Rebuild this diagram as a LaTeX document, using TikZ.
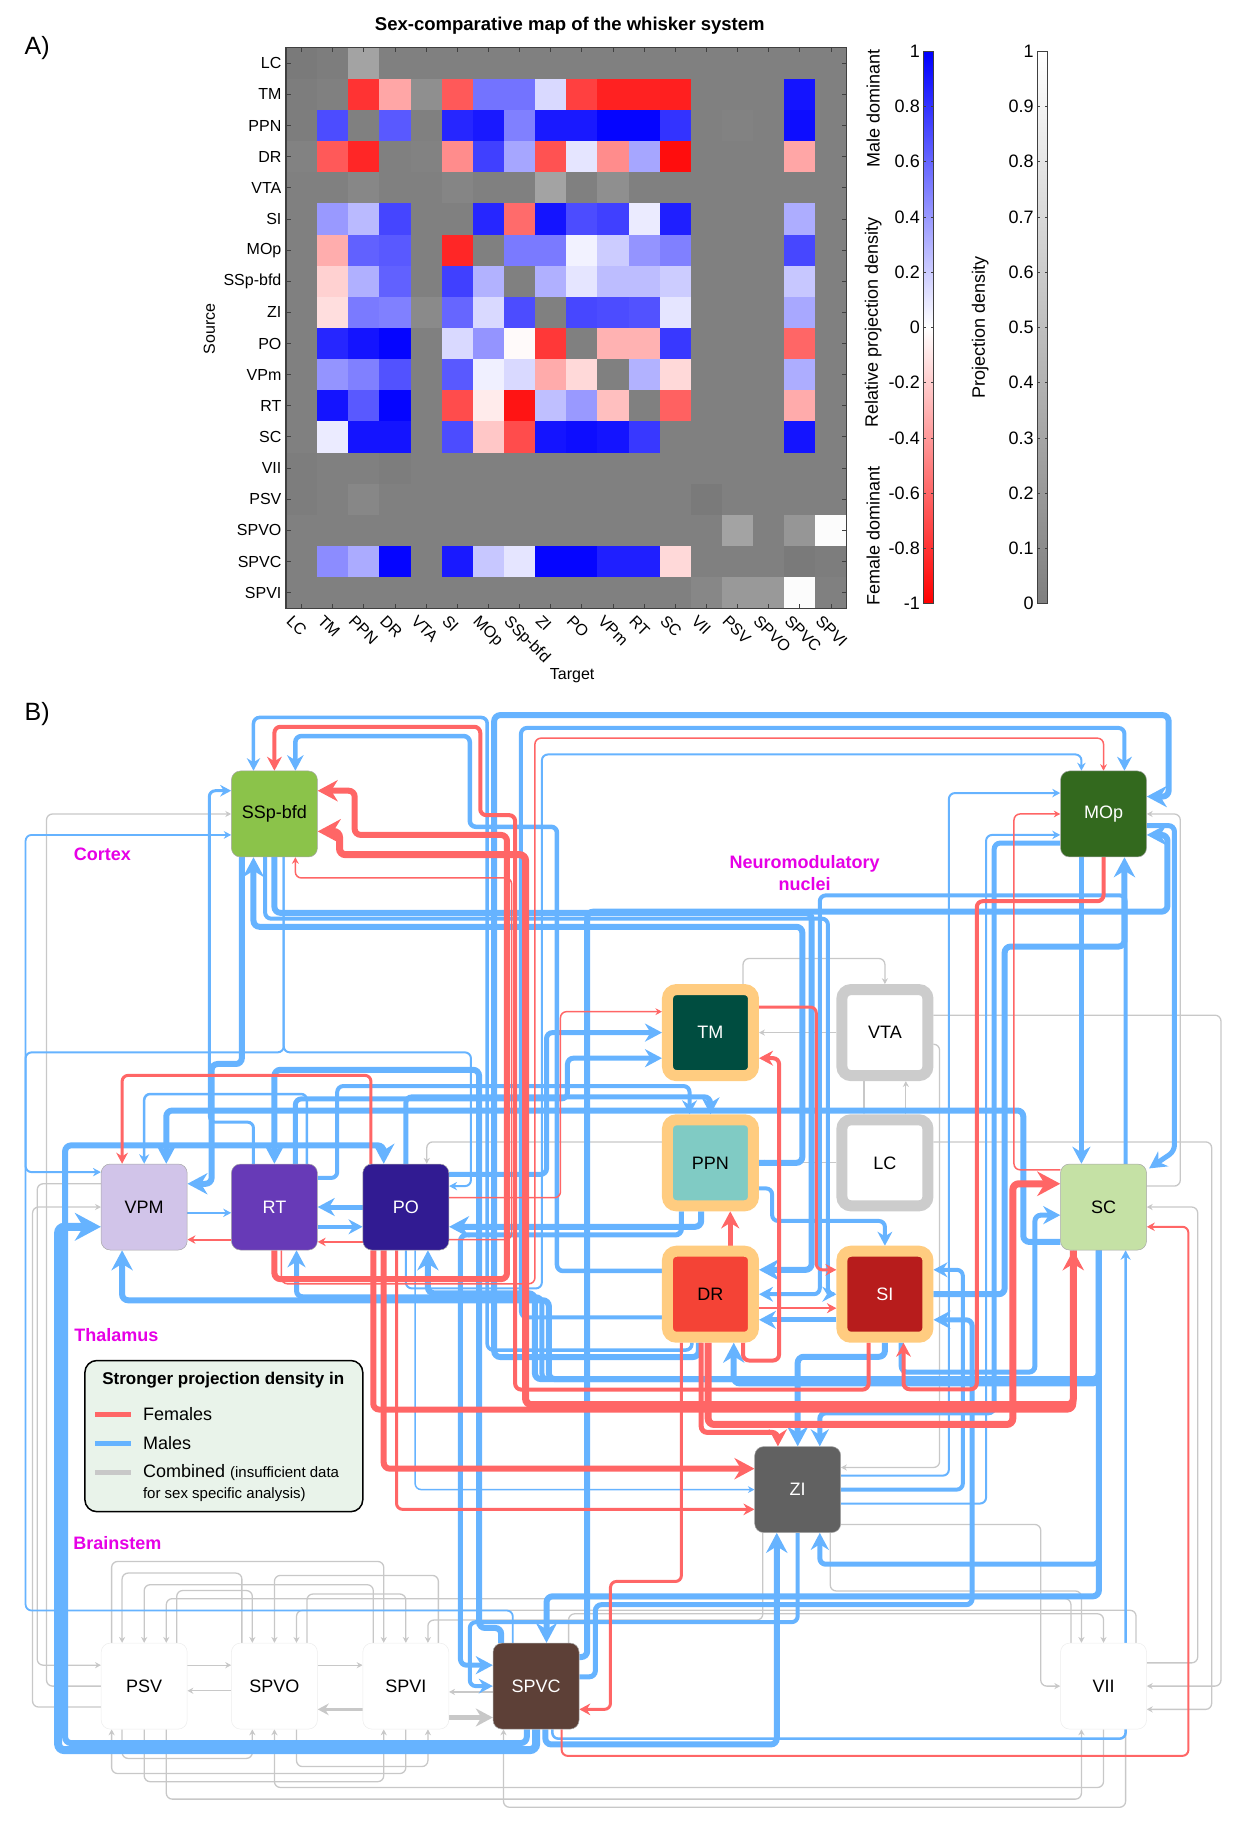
\documentclass[tikz,border=0pt]{standalone}
\usepackage{fontspec}
\setmainfont{Liberation Sans}
\usetikzlibrary{arrows.meta,calc}
\pgfdeclarelayer{edges}
\pgfsetlayers{edges,main}

\definecolor{mline}{HTML}{66B3FF}
\definecolor{fline}{HTML}{FF6666}
\definecolor{cline}{HTML}{C8C8C8}
\definecolor{haloc}{HTML}{FFCC80}
\definecolor{ringc}{HTML}{CCCCCC}
\definecolor{regionc}{HTML}{E600E6}
\definecolor{legendc}{HTML}{E9F3EA}
\definecolor{framec}{HTML}{404040}
\definecolor{cSSp}{HTML}{8BC34A}
\definecolor{cMOp}{HTML}{33691E}
\definecolor{cTM}{HTML}{004D40}
\definecolor{cPPN}{HTML}{80CBC4}
\definecolor{cDR}{HTML}{F44336}
\definecolor{cSI}{HTML}{B71C1C}
\definecolor{cVPM}{HTML}{D1C4E9}
\definecolor{cRT}{HTML}{673AB7}
\definecolor{cPO}{HTML}{311B92}
\definecolor{cSC}{HTML}{C5E1A5}
\definecolor{cZI}{HTML}{616161}
\definecolor{cSPVC}{HTML}{5D4037}

\newcommand{\hmfont}{\fontsize{16}{19}\selectfont}
\newcommand{\barfont}{\fontsize{18}{21}\selectfont}
\newcommand{\nodefont}{\fontsize{18}{21}\selectfont}
\newcommand{\regfont}{\bfseries\fontsize{18}{22}\selectfont}
\newcommand{\legfont}{\fontsize{18}{21}\selectfont}

% cell code -> colour: b = male (blue), r = female (red), g = combined (grey)
\def\hmapcol#1#2\relax{%
  \if b#1\def\hmcol{blue!#2!white}\fi
  \if r#1\def\hmcol{red!#2!white}\fi
  \if g#1\def\hmcol{black!#2!white}\fi}

\begin{document}
\begin{tikzpicture}[x=1.16279pt, y=-1.16279pt]
    % ================= styles =================
    \tikzset{
        % brain areas
        area/.style={rectangle, rounded corners=9pt, minimum size=86pt, inner sep=0pt,
            draw=black!35, line width=0.5pt, font=\nodefont},
        nm_area/.style={area, draw=haloc, line width=11pt},
        gate_area/.style={area, draw=ringc, line width=11pt, fill=white},
        bs_area/.style={area, draw=black!7, fill=white},
        % projections
        male_edge/.style={draw=mline, line width=#1pt, rounded corners=6pt,
            -{Stealth[length=2pt 3, width=2pt 3.2]}},
        female_edge/.style={draw=fline, line width=#1pt, rounded corners=6pt,
            -{Stealth[length=2pt 3, width=2pt 3.2]}},
        comb_edge/.style={draw=cline, line width=#1pt, rounded corners=6pt,
            -{Stealth[length=2pt 3, width=2pt 3.2]}},
        comb_edge/.default=1.3,
        % heat map
        hm_frame/.style={draw=framec, line width=1.2pt},
        hm_tick/.style={draw=framec, line width=0.9pt},
        region/.style={text=regionc, font=\regfont, align=center}
    }
    \useasboundingbox (0,0) rectangle (1075,1568.6);

    % ================= A) heat map =================
    \node[font=\fontsize{25}{28}\selectfont] (labA) at (32,41) {A)};
    \node[font=\bfseries\fontsize{18.5}{21}\selectfont] (title) at (490,22) {Sex-comparative map of the whisker system};

    \def\hx{246} \def\hy{41} \def\hc{26.78}
    \foreach \row [count=\i] in {
        {g52,g51,g36,g50,g50,g50,g50,g50,g50,g50,g50,g50,g50,g50,g50,g50,g50,g50},
        {g51,g50,r80,r35,g44,r65,b55,b55,b15,r75,r87,r87,r88,g50,g50,g50,b92,g50},
        {g51,b70,g50,b65,g50,b85,b90,b50,b90,b90,b98,b98,b80,g50,g49,g50,b95,g50},
        {g49,r65,r85,g50,g49,r45,b75,b35,r68,b10,r45,b35,r95,g50,g50,g50,r35,g50},
        {g50,g50,g47,g50,g50,g48,g50,g50,g36,g50,g44,g50,g50,g50,g50,g50,g50,g50},
        {g50,b40,b27,b73,g50,g50,b85,r58,b92,b70,b75,b08,b88,g50,g50,g50,b32,g50},
        {g50,r32,b62,b65,g50,r85,g50,b52,b52,b05,b20,b42,b50,g50,g50,g50,b72,g50},
        {g50,r18,b31,b62,g50,b75,b30,g50,b31,b10,b26,b26,b20,g50,g50,g50,b22,g50},
        {g50,r13,b52,b50,g46,b60,b15,b70,g50,b72,b70,b68,b10,g50,g50,g50,b34,g50},
        {g50,b85,b92,b98,g50,b15,b42,r02,r78,g50,r30,r30,b78,g50,g50,g50,r60,g50},
        {g50,b42,b50,b68,g50,b65,b06,b15,r33,r15,g50,b30,r15,g50,g50,g50,b32,g50},
        {g50,b92,b65,b98,g50,r70,r08,r92,b25,b40,r25,g50,r62,g50,g50,g50,r33,g50},
        {g50,b08,b92,b92,g50,b70,r22,r70,b92,b95,b92,b78,g50,g50,g50,g50,b92,g50},
        {g51,g50,g50,g51,g50,g50,g50,g50,g50,g50,g50,g50,g50,g50,g50,g50,g50,g50},
        {g51,g50,g47,g50,g50,g50,g50,g50,g50,g50,g50,g50,g50,g52,g50,g50,g50,g50},
        {g50,g50,g50,g50,g50,g50,g50,g50,g50,g50,g50,g50,g50,g50,g36,g50,g41,g1},
        {g50,b45,b33,b98,g50,b90,b22,b10,b98,b98,b88,b88,r15,g50,g50,g50,g52,g51},
        {g50,g50,g50,g50,g50,g50,g50,g50,g50,g50,g50,g50,g50,g47,g40,g40,g1,g50}} {
        \foreach \c [count=\j] in \row {
            \expandafter\hmapcol\c\relax
            \fill[color=\hmcol] ({\hx+(\j-1)*\hc},{\hy+(\i-1)*\hc}) rectangle ++(27.1,27.1);
        }
    }
    \draw[hm_frame] (246,41) rectangle (728,523);
    \foreach \lab [count=\i] in {LC,TM,PPN,DR,VTA,SI,MOp,SSp-bfd,ZI,PO,VPm,RT,SC,VII,PSV,SPVO,SPVC,SPVI} {
        \draw[hm_tick] ({\hx+(\i-0.5)*\hc},41) -- ++(0,4) ({\hx+(\i-0.5)*\hc},523) -- ++(0,-4)
            (246,{\hy+(\i-0.5)*\hc}) -- ++(4,0) (728,{\hy+(\i-0.5)*\hc}) -- ++(-4,0);
        \node[anchor=east, font=\hmfont, inner sep=1pt] (row\i) at (243,{\hy+(\i-0.5)*\hc}) {\lab};
        \node[anchor=north west, rotate=-45, font=\hmfont, inner sep=0pt] (col\i) at ({\hx+(\i-0.5)*\hc-7},528) {\lab};
    }
    \node[rotate=90, font=\hmfont] (src) at (180,283) {Source};
    \node[font=\hmfont] (tgt) at (492,581) {Target};

    % colour bars
    \shade[top color=blue, bottom color=white] (794,44) rectangle (803,281.5);
    \shade[top color=white, bottom color=red] (794,281.5) rectangle (803,519);
    \draw[hm_frame, line width=0.9pt] (794,44) rectangle (803,519);
    \foreach \v [count=\k] in {1,0.8,0.6,0.4,0.2,0,-0.2,-0.4,-0.6,-0.8,-1} {
        \pgfmathsetmacro{\yy}{44+(1-\v)/2*475}
        \node[anchor=east, font=\barfont, inner sep=1pt] (rl\k) at (792,\yy) {\v};
        \draw[hm_tick, line width=0.6pt] (794,\yy) -- ++(2.5,0) (803,\yy) -- ++(-2.5,0);
    }
    \node[rotate=90, font=\barfont] (male) at (751,93) {Male dominant};
    \node[rotate=90, font=\barfont] (rel) at (751,277) {Relative projection density};
    \node[rotate=90, font=\barfont] (female) at (751,461) {Female dominant};

    \shade[top color=white, bottom color=black!50] (892,44) rectangle (901,519);
    \draw[hm_frame, line width=0.9pt] (892,44) rectangle (901,519);
    \foreach \v [count=\k] in {1,0.9,0.8,0.7,0.6,0.5,0.4,0.3,0.2,0.1,0} {
        \pgfmathsetmacro{\yy}{44+(1-\v)*475}
        \node[anchor=east, font=\barfont, inner sep=1pt] (gl\k) at (890,\yy) {\v};
        \draw[hm_tick, line width=0.6pt] (892,\yy) -- ++(2.5,0) (901,\yy) -- ++(-2.5,0);
    }
    \node[rotate=90, font=\barfont] (dens) at (843,282) {Projection density};

    % ================= B) network =================
    \node[font=\fontsize{25}{28}\selectfont] (labB) at (32,614) {B)};

    \node[area, fill=cSSp] (SSp) at (236,700) {SSp-bfd};
    \node[area, fill=cMOp, text=white] (MOp) at (949,700) {MOp};
    \node[nm_area, fill=cTM, text=white] (TM) at (611,888) {TM};
    \node[gate_area] (VTA) at (761,888) {VTA};
    \node[nm_area, fill=cPPN] (PPN) at (611,1000) {PPN};
    \node[gate_area] (LC) at (761,1000) {LC};
    \node[nm_area, fill=cDR] (DR) at (611,1113) {DR};
    \node[nm_area, fill=cSI, text=white] (SI) at (761,1113) {SI};
    \node[area, fill=cVPM] (VPM) at (124,1038) {VPM};
    \node[area, fill=cRT, text=white] (RT) at (236,1038) {RT};
    \node[area, fill=cPO, text=white] (PO) at (349,1038) {PO};
    \node[area, fill=cSC] (SC) at (949,1038) {SC};
    \node[area, fill=cZI, text=white] (ZI) at (686,1281) {ZI};
    \node[bs_area] (PSV) at (124,1450) {PSV};
    \node[bs_area] (SPVO) at (236,1450) {SPVO};
    \node[bs_area] (SPVI) at (349,1450) {SPVI};
    \node[area, fill=cSPVC, text=white] (SPVC) at (461,1450) {SPVC};
    \node[bs_area] (VII) at (949,1450) {VII};

    \node[region] (cortex) at (88,735) {Cortex};
    \node[region] (neuro) at (692,751) {Neuromodulatory\\nuclei};
    \node[region] (thal) at (100,1148) {Thalamus};
    \node[region] (brain) at (101,1327) {Brainstem};

    % legend
    \draw[fill=legendc, draw=black, line width=1.5pt, rounded corners=12pt] (73,1170) rectangle (312,1300);
    \node[font=\bfseries\fontsize{17}{20}\selectfont] (legtitle) at (192,1187) {Stronger projection density in};
    \draw[fline, line width=5pt] (82,1216) -- (113,1216);
    \node[anchor=west, font=\legfont, inner sep=1pt] (legf) at (122,1216) {Females};
    \draw[mline, line width=5pt] (82,1241) -- (113,1241);
    \node[anchor=west, font=\legfont, inner sep=1pt] (legm) at (122,1241) {Males};
    \draw[cline, line width=5pt] (82,1266) -- (113,1266);
    \node[anchor=west, font=\legfont, inner sep=1pt] (legc) at (122,1266) {Combined {\fontsize{15}{17}\selectfont (insufficient data}};
    \node[anchor=west, font=\fontsize{15}{17}\selectfont, inner sep=1pt] (legc2) at (122,1285) {for sex specific analysis)};

    \begin{pgfonlayer}{edges}
        % ---------- combined (grey) ----------
        \draw[comb_edge=3] ($(SPVI.west)+(0,20)$) -- ($(SPVO.east)+(0,20)$);
        \draw[comb_edge=5] ($(SPVI.east)+(0,27)$) -- ($(SPVC.west)+(0,27)$);
        \draw[comb_edge] ($(SPVC.west)+(0,5)$) -- ($(SPVI.east)+(0,5)$);
        \draw[comb_edge] ($(SPVO.west)+(0,4)$) -- ($(PSV.east)+(0,4)$);
        \draw[comb_edge] ($(PSV.east)+(0,-18)$) -- ($(SPVO.west)+(0,-18)$);
        \draw[comb_edge] ($(SPVO.east)+(0,-18)$) -- ($(SPVI.west)+(0,-18)$);
        \draw[comb_edge] ($(SPVO.north)+(-28,0)$) -- ++(0,-60) -| ($(PSV.north)+(-19,0)$);
        \draw[comb_edge] ($(SPVI.north)+(-28,0)$) -- ++(0,-50) -| (PSV.north);
        \draw[comb_edge] ($(VII.north)+(-28,0)$) -- ++(0,-38) -| ($(PSV.north)+(19,0)$);
        \draw[comb_edge] ($(PSV.north)+(28,0)$) -- ++(0,-45) -| ($(SPVO.north)+(-19,0)$);
        \draw[comb_edge] ($(SPVI.north)+(28,0)$) -- ++(0,-58) -| (SPVO.north);
        \draw[comb_edge] ($(VII.north)+(28,0)$) -- ++(0,-28) -| ($(SPVO.north)+(19,0)$);
        \draw[comb_edge] ($(PSV.north)+(-28,0)$) -- ++(0,-70) -| ($(SPVI.north)+(-19,0)$);
        \draw[comb_edge] ($(SPVO.north)+(28,0)$) -- ++(0,-42) -| (SPVI.north);
        \draw[comb_edge] ($(ZI.south)+(-30,0)$) -- ++(0,75) -| ($(SPVI.north)+(19,0)$);
        \draw[comb_edge] ($(ZI.south)+(28,0)$) -- ++(0,50) -| ($(VII.north)+(-19,0)$);
        \draw[comb_edge] ($(SPVC.north)+(28,0)$) -- ++(0,-25) -| (VII.north);
        \draw[comb_edge] ($(PSV.south)+(-19,0)$) -- ++(0,25) -| ($(SPVO.south)+(-19,0)$);
        \draw[comb_edge] (PSV.south) -- ++(0,45) -| ($(SPVI.south)+(-19,0)$);
        \draw[comb_edge] ($(PSV.south)+(19,0)$) -- ++(0,60) -| ($(VII.south)+(-19,0)$);
        \draw[comb_edge] ($(SPVO.south)+(19,0)$) -- ++(0,32) -| ($(SPVI.south)+(19,0)$);
        \draw[comb_edge] (SPVI.south) -- ++(0,38) -| ($(PSV.south)+(-28,0)$);
        \draw[comb_edge] (VII.south) -- ++(0,50) -| (SPVO.south);
        \draw[comb_edge] ($(VII.south)+(19,0)$) -- ++(0,67) -| ($(SPVC.south)+(-28,0)$);
        \draw[comb_edge] ($(VPM.west)+(0,-20)$) -| (32,1432) -- ($(PSV.west)+(0,-18)$);
        \draw[comb_edge] (PSV.west) -| (40,700) -- (SSp.west);
        \draw[comb_edge] ($(PSV.west)+(0,18)$) -| (28,1038) -- (VPM.west);
        \draw[comb_edge] ($(PPN.west)+(0,-18)$) -| ($(PO.north)+(18,0)$);
        \draw[comb_edge] (LC.west) -- (PPN.east);
        \draw[comb_edge] (VTA.west) -- (TM.east);
        \draw[comb_edge] ($(VTA.east)+(0,10)$) -| (808,1262) -- ($(ZI.east)+(0,-19)$);
        \draw[comb_edge] ($(TM.north)+(28,0)$) |- ($(VTA.north)+(0,-22)$) -- (VTA.north);
        \draw[comb_edge] ($(VTA.south)+(-18,0)$) -- ($(LC.north)+(-18,0)$);
        \draw[comb_edge] ($(LC.north)+(18,0)$) -- ($(VTA.south)+(18,0)$);
        \draw[comb_edge] ($(SC.east)+(0,-18)$) -| (1015,700) -- (MOp.east);
        \draw[comb_edge] ($(LC.east)+(0,-18)$) -| (1042,1470) -- ($(VII.east)+(0,20)$);
        \draw[comb_edge] ($(VTA.east)+(0,-15)$) -| (1050,1450) -- (VII.east);
        \draw[comb_edge] ($(ZI.east)+(0,30)$) -| (895,1450) -- (VII.west);
        \draw[comb_edge] ($(VII.east)+(0,-20)$) -| (1030,1038) -- (SC.east);

        % ---------- males (blue) ----------
        \draw[male_edge=6] ($(DR.south)+(-10,0)$) |- (425,1167) |- (1005,615) |- ($(MOp.east)+(0,-15)$);
        \draw[male_edge=3.5] ($(DR.south)+(-16,0)$) |- (419,1161) |- (218,617) -- ($(SSp.north)+(-18,0)$);
        \draw[male_edge=4.5] ($(DR.west)+(0,-20)$) -| (479,711) -| (404,633) -| ($(SSp.north)+(18,0)$);
        \draw[male_edge=1.8] ($(SPVC.north)+(-20,0)$) |- (22,1385) |- ($(SSp.west)+(0,18)$);
        \draw[male_edge=3] ($(RT.north)+(-18,0)$) |- (180,965) |- ($(SSp.west)+(0,-20)$);
        \draw[male_edge=6] (SSp.south) |- (698,785) |- ($(DR.east)+(0,-21)$);
        \draw[male_edge=6] (PPN.east) -| (690,797) -| ($(SSp.south)+(-18,0)$);
        \draw[male_edge=5] ($(MOp.east)+(0,10)$) -| (1010,990) -- ($(SC.north east)+(2,4)$);
        \draw[male_edge=6] ($(SPVC.east)+(0,-25)$) -| (505,784) -| (1004,718) -- ($(MOp.east)+(0,18)$);
        \draw[male_edge=8] (SPVC.south) |- (50,1505) |- ($(VPM.west)+(0,17)$);
        \draw[male_edge=6] ($(SPVC.south)+(-8,0)$) |- (56,1499) |- (300,985) -| ($(PO.north)+(-19,0)$);
        \draw[male_edge=6] ($(SC.south)+(-4,0)$) |- ($(SPVC.north)+(9,-40)$) -- ($(SPVC.north)+(9,0)$);
        \draw[male_edge=6] ($(SPVC.south)+(8,0)$) |- ($(ZI.south)+(-18,182)$) -- ($(ZI.south)+(-18,0)$);
        \draw[male_edge=5] ($(SC.south)+(-4,0)$) |- ($(ZI.south)+(19,27)$) -- ($(ZI.south)+(19,0)$);
        \draw[male_edge=6] ($(PPN.south)+(-8,0)$) |- ($(PO.east)+(0,17)$);
        \draw[male_edge=6] (SI.south) |- ($(ZI.north)+(0,-77)$) -- (ZI.north);
        \draw[male_edge=5] ($(MOp.west)+(0,25)$) -| (855,1215) -| ($(ZI.north)+(19,0)$);
        \draw[male_edge=6] ($(SC.south)+(-4,0)$) |- ($(DR.south)+(20,35)$) -- ($(DR.south)+(20,0)$);
        \draw[male_edge=5] ($(SPVC.east)+(0,-8)$) -| (512,1380) -| (836,1135) -- ($(SI.east)+(0,22)$);
        \draw[male_edge=4] (ZI.east) -| (828,1092) -- ($(SI.east)+(0,-21)$);
        \draw[male_edge=5] ($(SI.south)+(14,0)$) |- (890,1180) |- ($(SC.west)+(0,7)$);
        \draw[male_edge=4] ($(PPN.east)+(0,22)$) -| (664,1050) -| (SI.north);
        \draw[male_edge=5] ($(SI.west)+(0,22)$) -- ($(DR.east)+(0,22)$);
        \draw[male_edge=4] ($(SC.north)+(19,0)$) |- (705,770) |- (DR.east);
        \draw[male_edge=4] ($(SSp.south)+(-8,0)$) |- (712,790) |- (SI.west);
        \draw[male_edge=5] ($(PO.east)+(0,-28)$) -| (470,888) -- (TM.west);
        \draw[male_edge=5] ($(RT.north)+(18,0)$) |- (488,945) |- ($(TM.west)+(0,22)$);
        \draw[male_edge=5] (PO.north) |- ($(PPN.north)+(0,-15)$) -- (PPN.north);
        \draw[male_edge=4] ($(RT.east)+(0,-25)$) -| (290,934) -| ($(PPN.north)+(-18,0)$);
        \draw[male_edge=6] ($(SC.west)+(0,30)$) -| (880,955) -| ($(VPM.north)+(19,0)$);
        \draw[male_edge=6] ($(SPVC.north)+(-30,0)$) |- (412,1400) |- (236,920) -- (RT.north);
        \draw[male_edge=2] ($(VPM.east)+(0,5)$) -- ($(RT.west)+(0,5)$);
        \draw[male_edge=6] ($(SC.south)+(-4,0)$) |- (472,1186) |- ($(VPM.south)+(-19,43)$) -- ($(VPM.south)+(-19,0)$);
        \draw[male_edge=5] ($(SC.south)+(-4,0)$) |- (466,1186) |- ($(RT.south)+(19,40)$) -- ($(RT.south)+(19,0)$);
        \draw[male_edge=6] ($(SC.south)+(-4,0)$) |- (460,1186) |- ($(PO.south)+(19,37)$) -- ($(PO.south)+(19,0)$);
        \draw[male_edge=5] (PO.west) -- (RT.east);
        \draw[male_edge=4] ($(RT.east)+(0,17)$) -- ($(PO.west)+(0,17)$);
        \draw[male_edge=6] ($(SSp.south)+(-28,0)$) |- (182,915) |- ($(VPM.east)+(0,-20)$);
        \draw[male_edge=2] ($(SSp.south)+(8,0)$) |- (405,905) |- ($(PO.east)+(0,-18)$);
        \draw[male_edge=2] ($(SSp.south)+(8,0)$) |- (22,905) |- ($(VPM.west)+(0,-30)$);
        \draw[male_edge=2] (PO.south) |- (466,1108) |- ($(MOp.north)+(-19,-14)$) -- ($(MOp.north)+(-19,0)$);
        \draw[male_edge=4] ($(DR.west)+(0,20)$) -| (448,626) -| ($(MOp.north)+(18,0)$);
        \draw[male_edge=2] ($(ZI.east)+(0,-12)$) -| (816,682) -- ($(MOp.west)+(0,-18)$);
        \draw[male_edge=6] (SI.east) -| (864,814) -| ($(MOp.south)+(18,0)$);
        \draw[male_edge=5] ($(MOp.south)+(-19,0)$) -- ($(SC.north)+(-19,0)$);
        \draw[male_edge=2] ($(ZI.east)+(0,12)$) -| (848,718) -- ($(MOp.west)+(0,18)$);
        \draw[male_edge=5] ($(PPN.south)+(-25,0)$) |- (396,1062) |- ($(SPVC.west)+(0,-18)$);
        \draw[male_edge=4] (ZI.south) |- (404,1395) |- (SPVC.west);
        \draw[male_edge=2.5] ($(SPVC.south)+(14,0)$) |- ($(SC.south)+(19,420)$) -- ($(SC.south)+(19,0)$);
        \draw[male_edge=1.5] ($(PO.south)+(8,0)$) |- (ZI.west);
        \draw[male_edge=2.5] ($(RT.north)+(28,0)$) |- ($(VPM.north)+(0,-60)$) -- (VPM.north);

        % ---------- females (red) ----------
        \draw[female_edge=6] (RT.south) |- (436,1100) |- (305,718) |- ($(SSp.east)+(0,-20)$);
        \draw[female_edge=7] ($(SC.south)+(-26,0)$) |- (452,1208) |- (292,735) |- ($(SSp.east)+(0,15)$);
        \draw[female_edge=4] ($(SI.south)+(-14,0)$) |- (443,1195) |- (413,701) |- (236,625) -- (SSp.north);
        \draw[female_edge=1.5] ($(PO.east)+(0,28)$) -| (440,755) -| ($(SSp.south)+(18,0)$);
        \draw[female_edge=5] ($(DR.north)+(17,0)$) -- ($(PPN.south)+(17,0)$);
        \draw[female_edge=7] ($(DR.south)+(-2,0)$) |- (871,1225) |- ($(SC.west)+(0,-20)$);
        \draw[female_edge=5] ($(DR.south)+(-8,0)$) |- ($(ZI.north)+(-17,-12)$) -- ($(ZI.north)+(-17,0)$);
        \draw[female_edge=6] ($(PO.south)+(-19,0)$) |- ($(ZI.west)+(0,-18)$);
        \draw[female_edge=3] ($(PO.south)+(-8,0)$) |- ($(ZI.west)+(0,17)$);
        \draw[female_edge=6] ($(PO.south)+(-28,0)$) |- ($(SC.south)+(-26,137)$) -- ($(SC.south)+(-26,0)$);
        \draw[female_edge=2] ($(SPVC.south)+(22,0)$) |- (1022,1510) |- ($(SC.east)+(0,17)$);
        \draw[female_edge=3] ($(DR.south)+(-25,0)$) |- (525,1360) |- ($(SPVC.east)+(0,20)$);
        \draw[female_edge=1.5] ($(PO.east)+(0,-8)$) -| (482,870) -- ($(TM.west)+(0,-18)$);
        \draw[female_edge=4] ($(DR.south)+(28,0)$) |- (670,1170) |- ($(TM.east)+(0,22)$);
        \draw[female_edge=3] ($(TM.east)+(0,-22)$) -| (702,1092) -- ($(SI.west)+(0,-21)$);
        \draw[female_edge=2.5] ($(DR.east)+(0,12)$) -- ($(SI.west)+(0,12)$);
        \draw[female_edge=4] (MOp.south) |- (840,775) |- ($(SI.south)+(16,40)$) -- ($(SI.south)+(16,0)$);
        \draw[female_edge=1.5] ($(RT.south)+(6,0)$) |- (460,1104) |- ($(MOp.north)+(0,-28)$) -- (MOp.north);
        \draw[female_edge=1.5] ($(SC.west)+(0,-32)$) -| (872,700) -- (MOp.west);
        \draw[female_edge=2] ($(RT.west)+(0,28)$) -- ($(VPM.east)+(0,28)$);
        \draw[female_edge=2] ($(PO.west)+(0,30)$) -- ($(RT.east)+(0,30)$);
        \draw[female_edge=3] ($(PO.north)+(-30,0)$) |- ($(VPM.north)+(-19,-76)$) -- ($(VPM.north)+(-19,0)$);
    \end{pgfonlayer}

\end{tikzpicture}
\end{document}
